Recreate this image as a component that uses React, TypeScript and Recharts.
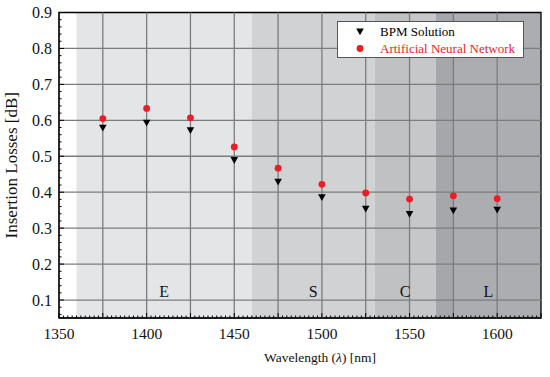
import { ScatterChart, Scatter, XAxis, YAxis, ReferenceArea, ReferenceLine, Legend } from 'recharts';

// wavelength samples (nm)
const wavelengths = [1375, 1400, 1425, 1450, 1475, 1500, 1525, 1550, 1575, 1600];
// insertion losses [dB]
const bpmLoss = [0.579, 0.593, 0.572, 0.489, 0.429, 0.386, 0.354, 0.339, 0.349, 0.351];
const annLoss = [0.605, 0.633, 0.607, 0.526, 0.467, 0.422, 0.398, 0.381, 0.39, 0.382];

// telecom bands (labels)
const bandNames = ['E', 'S', 'C', 'L'];
const bandStart = [1360, 1460, 1530, 1565];
const bandEnd = [1460, 1530, 1565, 1625];

// background shading segments
const shadeStart = [1360, 1460, 1530, 1550, 1565, 1575];
const shadeEnd = [1460, 1530, 1550, 1565, 1575, 1625];
const shadeFill = ['#e4e5e7', '#d1d2d4', '#c0c1c3', '#c6c7c9', '#a5a7aa', '#abadb0'];

const xGrid = [1375, 1400, 1425, 1450, 1475, 1500, 1525, 1550, 1575, 1600];
const yGrid = [0.1, 0.2, 0.3, 0.4, 0.5, 0.6, 0.7, 0.8];

// all ticks, minor included
const xTicks: number[] = [];
for (let i = 0; i <= 110; i++) xTicks.push(1350 + i * 2.5);
const yTicks: number[] = [];
for (let i = 3; i <= 45; i++) yTicks.push(+(i * 0.02).toFixed(2));

const bpmData = wavelengths.map((x, i) => ({ x, y: bpmLoss[i] }));
const annData = wavelengths.map((x, i) => ({ x, y: annLoss[i] }));

const FONT = '"Liberation Serif", "Times New Roman", serif';
const RED = '#ee1c24';

const XTick = ({ x, y, payload }: any) => {
  const v = payload.value;
  const major = v % 25 === 0;
  const labelled = v % 50 === 0 && v < 1625;
  return (
    <g>
      <line x1={x} x2={x} y1={y} y2={y - (major ? 5 : 2.5)} stroke="#000" />
      {labelled && (
        <text x={x} y={y + 21} textAnchor="middle" fontFamily={FONT} fontSize={15.5} fill="#111">
          {v}
        </text>
      )}
    </g>
  );
};

const YTick = ({ x, y, payload }: any) => {
  const v = payload.value;
  const major = Math.abs(v * 10 - Math.round(v * 10)) < 1e-6;
  return (
    <g>
      <line x1={x} x2={x + (major ? 5 : 2.5)} y1={y} y2={y} stroke="#000" />
      {major && (
        <text x={x - 7} y={y + 5.5} textAnchor="end" fontFamily={FONT} fontSize={16} fill="#111">
          {v.toFixed(1)}
        </text>
      )}
    </g>
  );
};

const DownTriangle = ({ cx, cy }: any) => (
  <path d={`M${cx - 3.8},${cy - 3.1} L${cx + 3.8},${cy - 3.1} L${cx},${cy + 3.7} Z`} fill="#000" />
);

const RedDot = ({ cx, cy }: any) => <circle cx={cx} cy={cy} r={3.4} fill={RED} />;

const LegendBox = () => (
  <div
    style={{
      background: '#fff',
      border: '1px solid #555',
      fontFamily: FONT,
      fontSize: 13,
      lineHeight: '17px',
      padding: '1px 0',
      boxSizing: 'border-box',
      width: 187,
      height: 37,
    }}
  >
    <div style={{ display: 'flex', alignItems: 'center', color: '#000' }}>
      <svg width={42} height={17}>
        <path d="M18.2,5.4 L25.8,5.4 L22,12.2 Z" fill="#000" />
      </svg>
      <span>BPM Solution</span>
    </div>
    <div style={{ display: 'flex', alignItems: 'center', color: RED }}>
      <svg width={42} height={17}>
        <circle cx={22} cy={8.5} r={3.4} fill={RED} />
      </svg>
      <span>Artificial Neural Network</span>
    </div>
  </div>
);

const App = () => {
  return (
    <div style={{ position: 'absolute', left: 0, top: 0 }}>
      <ScatterChart width={550} height={377} margin={{ top: 12.5, right: 9, bottom: 58, left: 58 }}>
        {shadeFill.map((fill, i) => (
          <ReferenceArea
            key={`shade${i}`}
            x1={shadeStart[i]}
            x2={shadeEnd[i]}
            y1={0.05}
            y2={0.9}
            fill={fill}
            fillOpacity={1}
            stroke="none"
          />
        ))}
        {xGrid.map((v) => (
          <ReferenceLine key={`gx${v}`} x={v} stroke="#7c7c7c" strokeWidth={1.3} />
        ))}
        {yGrid.map((v) => (
          <ReferenceLine key={`gy${v}`} y={v} stroke="#7c7c7c" strokeWidth={1.3} />
        ))}
        {bandNames.map((name, i) => (
          <ReferenceArea
            key={name}
            x1={bandStart[i]}
            x2={bandEnd[i]}
            y1={0.05}
            y2={0.9}
            fill="none"
            stroke="none"
            label={{ value: name, position: 'insideBottom', offset: 21, fill: '#111', fontSize: 16, fontFamily: FONT }}
          />
        ))}
        <XAxis
          dataKey="x"
          type="number"
          domain={[1350, 1625]}
          allowDataOverflow
          ticks={xTicks}
          interval={0}
          height={1}
          tickSize={0}
          tickMargin={0}
          tickLine={false}
          tick={XTick}
          axisLine={{ stroke: '#000' }}
          label={{
            content: ({ viewBox }: any) => (
              <text
                x={viewBox.x + viewBox.width / 2 + 20}
                y={viewBox.y + 44}
                textAnchor="middle"
                fontFamily={FONT}
                fontSize={13.5}
                fill="#111"
              >
                Wavelength (<tspan fontStyle="italic">λ</tspan>) [nm]
              </text>
            ),
          }}
        />
        <YAxis
          dataKey="y"
          type="number"
          domain={[0.05, 0.9]}
          allowDataOverflow
          ticks={yTicks}
          interval={0}
          width={1}
          tickSize={0}
          tickMargin={0}
          tickLine={false}
          tick={YTick}
          axisLine={{ stroke: '#000' }}
          label={{
            content: ({ viewBox }: any) => {
              const cy = viewBox.y + viewBox.height / 2;
              return (
                <text
                  x={11}
                  y={cy}
                  transform={`rotate(-90, 11, ${cy})`}
                  textAnchor="middle"
                  dominantBaseline="central"
                  fontFamily={FONT}
                  fontSize={17}
                  fill="#111"
                >
                  Insertion Losses [dB]
                </text>
              );
            },
          }}
        />
        <ReferenceArea x1={1350} x2={1625} y1={0.05} y2={0.9} fill="none" stroke="#000" strokeWidth={1.3} />
        <Scatter name="BPM Solution" data={bpmData} shape={DownTriangle} isAnimationActive={false} />
        <Scatter name="Artificial Neural Network" data={annData} shape={RedDot} isAnimationActive={false} />
        <Legend
          layout="horizontal"
          align="center"
          verticalAlign="middle"
          content={LegendBox}
          wrapperStyle={{ position: 'absolute', left: 337, top: 21, width: 187, height: 37 }}
        />
      </ScatterChart>
    </div>
  );
};

export default App;
